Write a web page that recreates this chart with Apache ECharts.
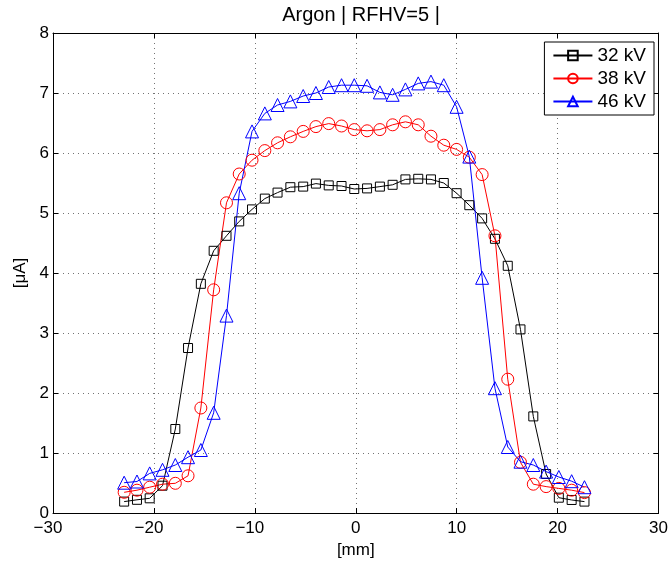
<!DOCTYPE html>
<html><head><meta charset="utf-8">
<script src="https://cdn.jsdelivr.net/npm/echarts@6/dist/echarts.min.js"></script>
<style>html,body{margin:0;padding:0;background:#fff}#c{width:671px;height:565px}</style>
</head><body><div id="c"></div>
<script>
const titleText = 'Argon | RFHV=5 |';
const xLabel = '[mm]';
const yLabel = '[μA]';
const seriesNames = ['32 kV', '38 kV', '46 kV'];
const xs = [-22.95, -21.68, -20.42, -19.15, -17.88, -16.62, -15.35, -14.08, -12.81, -11.55, -10.28, -9.01, -7.75, -6.48, -5.21, -3.95, -2.68, -1.41, -0.15, 1.12, 2.39, 3.65, 4.92, 6.19, 7.45, 8.72, 9.99, 11.25, 12.52, 13.79, 15.06, 16.32, 17.59, 18.86, 20.12, 21.39, 22.66];
const kv32 = [0.19,0.22,0.245,0.455,1.4,2.75,3.82,4.37,4.62,4.86,5.06,5.24,5.34,5.43,5.44,5.49,5.46,5.45,5.4,5.41,5.44,5.47,5.56,5.57,5.56,5.5,5.33,5.13,4.91,4.57,4.12,3.06,1.61,0.65,0.255,0.217,0.19];
const kv38 = [0.345,0.38,0.43,0.48,0.495,0.62,1.75,3.72,5.17,5.65,5.88,6.04,6.17,6.27,6.36,6.44,6.49,6.45,6.39,6.37,6.39,6.47,6.52,6.47,6.28,6.13,6.06,5.93,5.64,4.62,2.23,0.845,0.48,0.44,0.41,0.38,0.34];
const kv46 = [0.505,0.525,0.66,0.72,0.8,0.93,1.05,1.67,3.29,5.33,6.36,6.66,6.8,6.86,6.95,7.0,7.1,7.13,7.13,7.12,7.01,6.97,7.06,7.16,7.19,7.13,6.77,5.94,3.92,2.08,1.1,0.855,0.8,0.69,0.6,0.53,0.43];
const xTicks = {min: -30, max: 30, interval: 10};
const yTicks = {min: 0, max: 8, interval: 1};

const font = 'Liberation Sans, Arial, Helvetica, sans-serif';
const fmtY = v => String(v).replace('-', '\u2212');
const fmtX = v => v < 0 ? '\u2212' + Math.abs(v) + '{p|}' : String(v);
const pair = ys => xs.map((x, i) => [x, ys[i]]);

const chart = echarts.init(document.getElementById('c'), null, {renderer: 'canvas'});
const gridStyle = {show: true, lineStyle: {color: '#000', type: [1, 4], width: 1, opacity: 0.55}};
const mk = (name, data, color, symbol, size) => ({
  name, type: 'line', data, symbol, symbolSize: size, showAllSymbol: true,
  lineStyle: {color, width: 1}, itemStyle: {color: 'rgba(255,255,255,0)', borderColor: color, borderWidth: 1},
  emphasis: {disabled: true}, animation: false, z: 3
});
chart.setOption({
  animation: false,
  backgroundColor: '#fff',
  title: {text: titleText, left: 356, top: 0, textAlign: 'center',
    textStyle: {fontFamily: font, fontSize: 20, fontWeight: 'normal', color: '#000'}},
  grid: {left: 53, right: 11, top: 33, bottom: 52, containLabel: false},
  legend: {
    orient: 'vertical', right: 17, top: 42,
    backgroundColor: '#fff', borderColor: '#000', borderWidth: 1, padding: [4, 8, 4, 8],
    itemWidth: 39, itemHeight: 12, itemGap: 4,
    textStyle: {fontFamily: font, fontSize: 19, lineHeight: 19, color: '#000', padding: [0, 0, 0, 0]},
    data: seriesNames
  },
  xAxis: [{
    type: 'value', min: xTicks.min, max: xTicks.max, interval: xTicks.interval,
    name: xLabel, nameLocation: 'middle', nameGap: 27,
    nameTextStyle: {fontFamily: font, fontSize: 17, color: '#000'},
    axisLine: {show: true, onZero: false, lineStyle: {color: '#000', width: 1}},
    axisTick: {show: true, inside: true, length: 5, lineStyle: {color: '#000'}},
    axisLabel: {fontFamily: font, fontSize: 17, color: '#000', margin: 7, formatter: fmtX,
      rich: {p: {width: 10}}},
    splitLine: gridStyle
  }, {
    type: 'value', position: 'top', min: xTicks.min, max: xTicks.max, interval: xTicks.interval,
    axisLine: {show: true, onZero: false, lineStyle: {color: '#000', width: 1}},
    axisTick: {show: true, inside: true, length: 5, lineStyle: {color: '#000'}},
    axisLabel: {show: false}, splitLine: {show: false}
  }],
  yAxis: [{
    type: 'value', min: yTicks.min, max: yTicks.max, interval: yTicks.interval,
    name: yLabel, nameLocation: 'middle', nameGap: 23, nameRotate: 90,
    nameTextStyle: {fontFamily: font, fontSize: 17, color: '#000'},
    axisLine: {show: true, onZero: false, lineStyle: {color: '#000', width: 1}},
    axisTick: {show: true, inside: true, length: 5, lineStyle: {color: '#000'}},
    axisLabel: {fontFamily: font, fontSize: 17, color: '#000', margin: 4, formatter: fmtY},
    splitLine: gridStyle
  }, {
    type: 'value', position: 'right', min: yTicks.min, max: yTicks.max, interval: yTicks.interval,
    axisLine: {show: true, onZero: false, lineStyle: {color: '#000', width: 1}},
    axisTick: {show: true, inside: true, length: 5, lineStyle: {color: '#000'}},
    axisLabel: {show: false}, splitLine: {show: false}
  }],
  series: [
    mk(seriesNames[0], pair(kv32), '#000000', 'rect', 9),
    mk(seriesNames[1], pair(kv38), '#ff0000', 'circle', 12),
    mk(seriesNames[2], pair(kv46), '#0000ff', 'triangle', 13)
  ]
});
</script></body></html>
